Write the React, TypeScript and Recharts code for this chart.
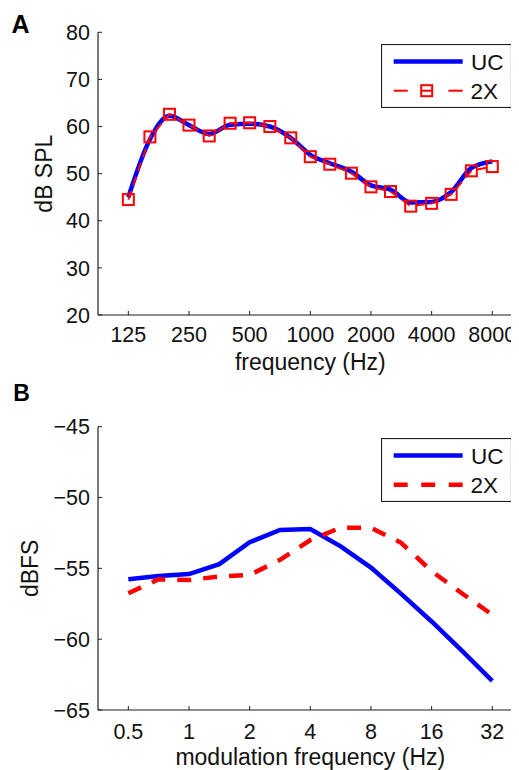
import React from 'react';
import { LineChart, Line, XAxis, YAxis, Legend } from 'recharts';

// Panel A: 1/3-octave spectrum
const freqA = [125, 160, 200, 250, 315, 400, 500, 630, 800, 1000, 1250, 1600, 2000, 2500, 3150, 4000, 5000, 6300, 8000];
const ucA = [45.0, 57.3, 62.3, 60.3, 58.4, 60.4, 60.6, 60.0, 57.6, 54.0, 52.2, 50.4, 47.5, 46.6, 43.9, 44.0, 46.1, 51.2, 52.6];
const x2A = [44.5, 57.8, 62.6, 60.3, 58.0, 60.7, 60.8, 60.0, 57.6, 53.6, 52.0, 50.1, 47.2, 46.2, 43.1, 43.7, 45.6, 50.6, 51.5];
const ticksA = [125, 250, 500, 1000, 2000, 4000, 8000];
const yTicksA = [20, 30, 40, 50, 60, 70, 80];

// Panel B: modulation spectrum
const freqB = [0.5, 0.707, 1, 1.414, 2, 2.83, 4, 5.66, 8, 11.3, 16, 22.6, 32];
const ucB = [-55.77, -55.54, -55.4, -54.7, -53.16, -52.29, -52.22, -53.45, -54.95, -56.8, -58.75, -60.8, -62.95];
const x2B = [-56.76, -55.77, -55.82, -55.58, -55.47, -54.4, -53.0, -52.13, -52.13, -53.2, -55.2, -56.76, -58.28];
const ticksB = [0.5, 1, 2, 4, 8, 16, 32];
const yTicksB = [-65, -60, -55, -50, -45];

const dataA = freqA.map((f, i) => ({ f, uc: ucA[i], x2: x2A[i] }));
const dataB = freqB.map((f, i) => ({ f, uc: ucB[i], x2: x2B[i] }));

const FONT = '"Liberation Sans", Arial, Helvetica, sans-serif';
const AXIS = '#1f1f1f';
const BLUE = '#0000ff';
const RED = '#ff0000';

const fmtMinus = (v: number) => (v < 0 ? '\u2212' + Math.abs(v) : String(v));

const SquareDot = (props: any) => {
  const { cx, cy } = props;
  if (cx == null || cy == null) return null;
  return <rect x={cx - 5.5} y={cy - 5.5} width={11} height={11} fill="none" stroke={RED} strokeWidth={2} />;
};

const LegendBox = ({ mode }: { mode: 'A' | 'B' }) => (
  <svg width={131} height={64} style={{ display: 'block' }}>
    <rect x={0.5} y={0.5} width={130} height={63} fill="#fff" stroke={AXIS} strokeWidth={1.2} />
    <line x1={12.7} x2={81.7} y1={17.5} y2={17.5} stroke={BLUE} strokeWidth={4.5} />
    <text x={90} y={25.5} fontFamily={FONT} fontSize={22.5} fill="#111">UC</text>
    {mode === 'A' ? (
      <g>
        <line x1={12.7} x2={26.7} y1={46.7} y2={46.7} stroke={RED} strokeWidth={2} />
        <line x1={67.4} x2={81.7} y1={46.7} y2={46.7} stroke={RED} strokeWidth={2} />
        <line x1={40.5} x2={51} y1={46.7} y2={46.7} stroke={RED} strokeWidth={2} />
        <rect x={40.2} y={41.2} width={11} height={11} fill="none" stroke={RED} strokeWidth={2} />
      </g>
    ) : (
      <line x1={12.7} x2={81.7} y1={46.7} y2={46.7} stroke={RED} strokeWidth={4.5} strokeDasharray="14 13.5" />
    )}
    <text x={89.4} y={54.5} fontFamily={FONT} fontSize={22.5} fill="#111">2X</text>
  </svg>
);

const tickStyle = { fontSize: 21.5, fill: '#111', fontFamily: FONT };

export default function App() {
  const domA: [number, number] = [125 / Math.SQRT2, 8000 * Math.SQRT2];
  const domB: [number, number] = [0.5 / Math.SQRT2, 32 * Math.SQRT2];
  return (
    <div style={{ position: 'relative', width: 511, height: 762, overflow: 'hidden', fontFamily: FONT }}>
      <div style={{ position: 'absolute', left: 0, top: 0 }}>
        <LineChart width={530} height={370} data={dataA} margin={{ top: 24.3, right: 15.4, bottom: 13, left: 0 }}>
          <XAxis
            dataKey="f"
            type="number"
            scale="log"
            domain={domA}
            ticks={ticksA}
            allowDataOverflow
            height={50}
            tickSize={-4}
            tickMargin={16}
            tick={tickStyle}
            stroke={AXIS}
            tickLine={{ stroke: AXIS }}
            axisLine={{ stroke: AXIS, strokeWidth: 1.2 }}
            label={{
              content: (p: any) => (
                <text x={p.viewBox.x + p.viewBox.width / 2} y={p.viewBox.y + 55} textAnchor="middle" fontFamily={FONT} fontSize={23} fill="#111">
                  frequency (Hz)
                </text>
              ),
            }}
          />
          <XAxis xAxisId="top" orientation="top" dataKey="f" type="number" scale="log" domain={domA} ticks={ticksA} allowDataOverflow height={0} tickSize={-4} tick={false} stroke={AXIS} axisLine={{ stroke: AXIS, strokeWidth: 1.2 }} />
          <YAxis
            type="number"
            domain={[20, 80]}
            ticks={yTicksA}
            width={90}
            tickSize={-4}
            tickMargin={12}
            tick={tickStyle}
            stroke={AXIS}
            axisLine={{ stroke: AXIS, strokeWidth: 1.2 }}
            label={{
              content: (p: any) => (
                <text x={43.7} y={p.viewBox.y + p.viewBox.height / 2} transform={`rotate(-90 43.7 ${p.viewBox.y + p.viewBox.height / 2})`} textAnchor="middle" fontFamily={FONT} fontSize={23} fill="#111">
                  dB SPL
                </text>
              ),
            }}
          />
          <YAxis yAxisId="right" orientation="right" type="number" domain={[20, 80]} ticks={yTicksA} width={0} tickSize={-4} tick={false} stroke={AXIS} axisLine={{ stroke: AXIS, strokeWidth: 1.2 }} />
          <Legend layout="horizontal" verticalAlign="middle" align="center" content={() => <LegendBox mode="A" />} wrapperStyle={{ left: 373.3, top: 36, width: 131, height: 64 }} />
          <Line type="monotone" dataKey="uc" stroke={BLUE} strokeWidth={4.5} dot={false} isAnimationActive={false} />
          <Line type="linear" dataKey="x2" stroke={RED} strokeWidth={2} strokeDasharray="9 6" dot={<SquareDot />} isAnimationActive={false} />
        </LineChart>
      </div>
      <div style={{ position: 'absolute', left: 0, top: 370 }}>
        <LineChart width={530} height={392} data={dataB} margin={{ top: 48.7, right: 15.4, bottom: 15, left: 0 }}>
          <XAxis
            dataKey="f"
            type="number"
            scale="log"
            domain={domB}
            ticks={ticksB}
            allowDataOverflow
            height={45}
            tickSize={-4}
            tickMargin={17.3}
            tick={tickStyle}
            stroke={AXIS}
            axisLine={{ stroke: AXIS, strokeWidth: 1.2 }}
            label={{
              content: (p: any) => (
                <text x={p.viewBox.x + p.viewBox.width / 2} y={p.viewBox.y + 55} textAnchor="middle" fontFamily={FONT} fontSize={23} fill="#111">
                  modulation frequency (Hz)
                </text>
              ),
            }}
          />
          <XAxis xAxisId="top" orientation="top" dataKey="f" type="number" scale="log" domain={domB} ticks={ticksB} allowDataOverflow height={0} tickSize={-4} tick={false} stroke={AXIS} axisLine={{ stroke: AXIS, strokeWidth: 1.2 }} />
          <YAxis
            type="number"
            domain={[-65, -45]}
            ticks={yTicksB}
            width={90}
            tickSize={-4}
            tickMargin={12}
            tick={tickStyle}
            tickFormatter={fmtMinus}
            stroke={AXIS}
            axisLine={{ stroke: AXIS, strokeWidth: 1.2 }}
            label={{
              content: (p: any) => (
                <text x={30.3} y={p.viewBox.y + p.viewBox.height / 2} transform={`rotate(-90 30.3 ${p.viewBox.y + p.viewBox.height / 2})`} textAnchor="middle" fontFamily={FONT} fontSize={23} fill="#111">
                  dBFS
                </text>
              ),
            }}
          />
          <YAxis yAxisId="right" orientation="right" type="number" domain={[-65, -45]} ticks={yTicksB} width={0} tickSize={-4} tick={false} stroke={AXIS} axisLine={{ stroke: AXIS, strokeWidth: 1.2 }} />
          <Legend layout="horizontal" verticalAlign="middle" align="center" content={() => <LegendBox mode="B" />} wrapperStyle={{ left: 373.3, top: 60.3, width: 131, height: 64 }} />
          <Line type="linear" dataKey="uc" stroke={BLUE} strokeWidth={4.5} dot={false} isAnimationActive={false} />
          <Line type="linear" dataKey="x2" stroke={RED} strokeWidth={4.5} strokeDasharray="14 12" dot={false} isAnimationActive={false} />
        </LineChart>
      </div>
      <svg width={511} height={762} style={{ position: 'absolute', left: 0, top: 0, pointerEvents: 'none' }}>
        <text x={3.5} y={25.3} fontFamily={FONT} fontWeight="bold" fontSize={25} fill="#000">A</text>
        <text x={5.3} y={392.7} fontFamily={FONT} fontWeight="bold" fontSize={23} fill="#000">B</text>
      </svg>
    </div>
  );
}
